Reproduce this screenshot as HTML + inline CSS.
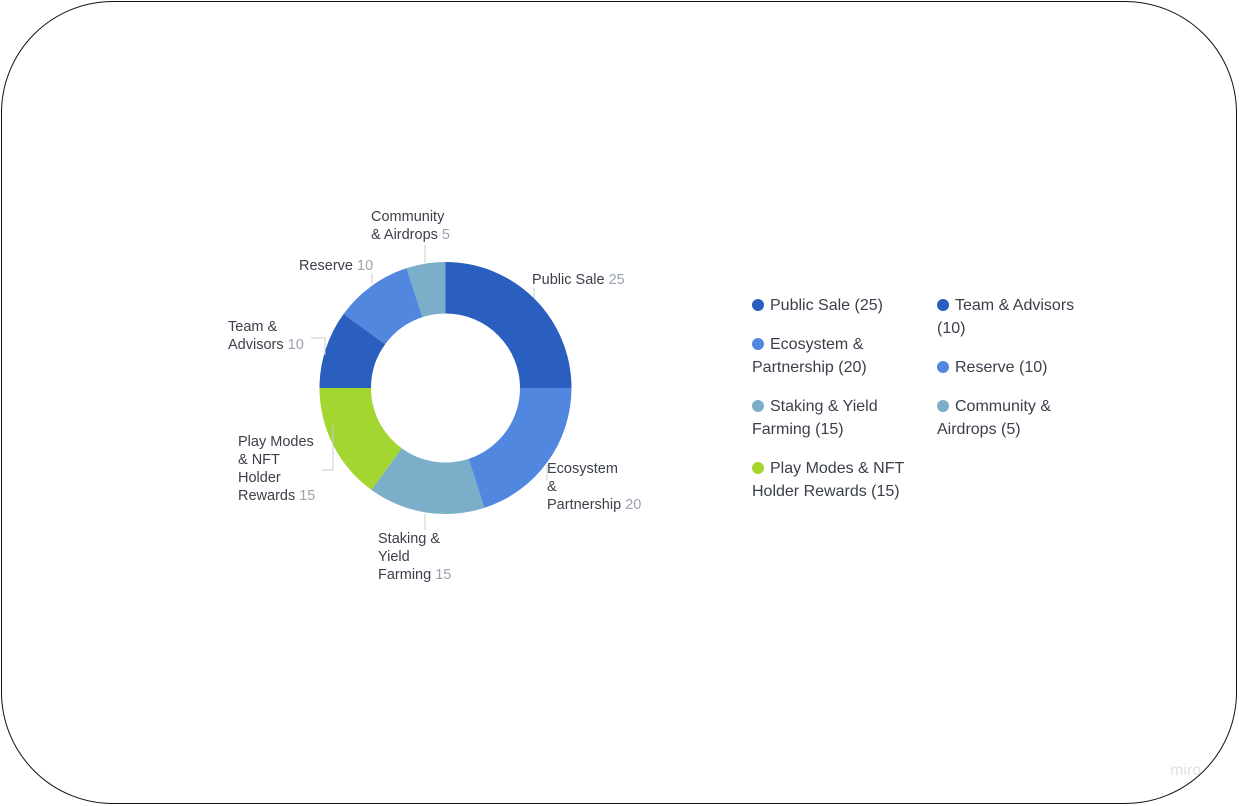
<!DOCTYPE html>
<html><head><meta charset="utf-8"><style>
body{margin:0;background:#fff;width:1239px;height:806px;overflow:hidden;font-family:"Liberation Sans",sans-serif}
.frame{position:absolute;left:1px;top:1px;width:1234px;height:801px;border:1.6px solid #111;border-radius:112px}
.lg{position:absolute;font-size:16px;color:#3a3f4a;line-height:23px;width:165px}
.dot{display:inline-block;width:12px;height:12px;border-radius:50%;margin-right:6px;vertical-align:-1px}
.miro{position:absolute;left:1170px;top:762px;font-size:16px;color:#e2e2e2}
</style></head><body>
<div class="frame"></div>
<svg id="chart" width="1239" height="806" style="position:absolute;left:0;top:0"></svg>
<div class="lg" style="left:752px;top:294px"><span class="dot" style="background:#2b5fbf"></span>Public Sale (25)</div>
<div class="lg" style="left:937px;top:294px"><span class="dot" style="background:#2b5fbf"></span>Team &amp; Advisors (10)</div>
<div class="lg" style="left:752px;top:333px"><span class="dot" style="background:#5287e0"></span>Ecosystem &amp; Partnership (20)</div>
<div class="lg" style="left:937px;top:356px"><span class="dot" style="background:#5287e0"></span>Reserve (10)</div>
<div class="lg" style="left:752px;top:395px"><span class="dot" style="background:#7aaec9"></span>Staking &amp; Yield Farming (15)</div>
<div class="lg" style="left:937px;top:395px"><span class="dot" style="background:#7aaec9"></span>Community &amp; Airdrops (5)</div>
<div class="lg" style="left:752px;top:457px;width:170px"><span class="dot" style="background:#a4d632"></span>Play Modes &amp; NFT Holder Rewards (15)</div>
<div class="miro">miro</div>
<script>
const categories=["Public Sale","Ecosystem & Partnership","Staking & Yield Farming","Play Modes & NFT Holder Rewards","Team & Advisors","Reserve","Community & Airdrops"];
const values=[25,20,15,15,10,10,5];
const colors=["#2b5fbf","#5287e0","#7aaec9","#a4d632","#2b5fbf","#5287e0","#7aaec9"];
const labelLines=[["Public Sale"],["Ecosystem","&","Partnership"],["Staking &","Yield","Farming"],["Play Modes","& NFT","Holder","Rewards"],["Team &","Advisors"],["Reserve"],["Community","& Airdrops"]];
const labelPos=[[532,284,"start"],[547,473,"start"],[378,543,"start"],[238,446,"start"],[228,331,"start"],[299,270,"start"],[371,221,"start"]];
const leaders=["M534 288V298","M547 465V480","M425 514V530","M333 425V470H322","M311 338H325V355","M372 273V284","M425 245V263"];
const NS="http://www.w3.org/2000/svg";
const svg=document.getElementById('chart');
const cx=445.5,cy=388,R=126,r=74.5;
const total=values.reduce((a,b)=>a+b,0);
function pt(a,rad){return [cx+rad*Math.sin(a),cy-rad*Math.cos(a)];}
let acc=0;
values.forEach((v,i)=>{
  const a0=acc/total*2*Math.PI;acc+=v;const a1=acc/total*2*Math.PI;
  const large=(a1-a0)>Math.PI?1:0;
  const p0=pt(a0,R),p1=pt(a1,R),q1=pt(a1,r),q0=pt(a0,r);
  const p=document.createElementNS(NS,'path');
  p.setAttribute('d',`M${p0}A${R},${R} 0 ${large} 1 ${p1}L${q1}A${r},${r} 0 ${large} 0 ${q0}Z`);
  p.setAttribute('fill',colors[i]);
  
  
  svg.appendChild(p);
  const l=document.createElementNS(NS,'path');
  l.setAttribute('d',leaders[i]);l.setAttribute('stroke','#c8ccd2');l.setAttribute('fill','none');
  
  
  svg.appendChild(l);
  const t=document.createElementNS(NS,'text');
  t.setAttribute('x',labelPos[i][0]);t.setAttribute('y',labelPos[i][1]);
  t.setAttribute('font-size','14.5');t.setAttribute('fill','#3a3f4a');
  t.setAttribute('font-family','Liberation Sans, sans-serif');
  
  
  const lines=labelLines[i];
  lines.forEach((s,j)=>{
    const ts=document.createElementNS(NS,'tspan');
    ts.setAttribute('x',labelPos[i][0]);ts.setAttribute('dy',j?18:0);
    ts.textContent=s;
    if(j===lines.length-1){const vs=document.createElementNS(NS,'tspan');vs.setAttribute('fill','#9aa3ad');vs.textContent=' '+v;ts.appendChild(vs);}
    t.appendChild(ts);
  });
  svg.appendChild(t);
});
</script>
</body></html>
